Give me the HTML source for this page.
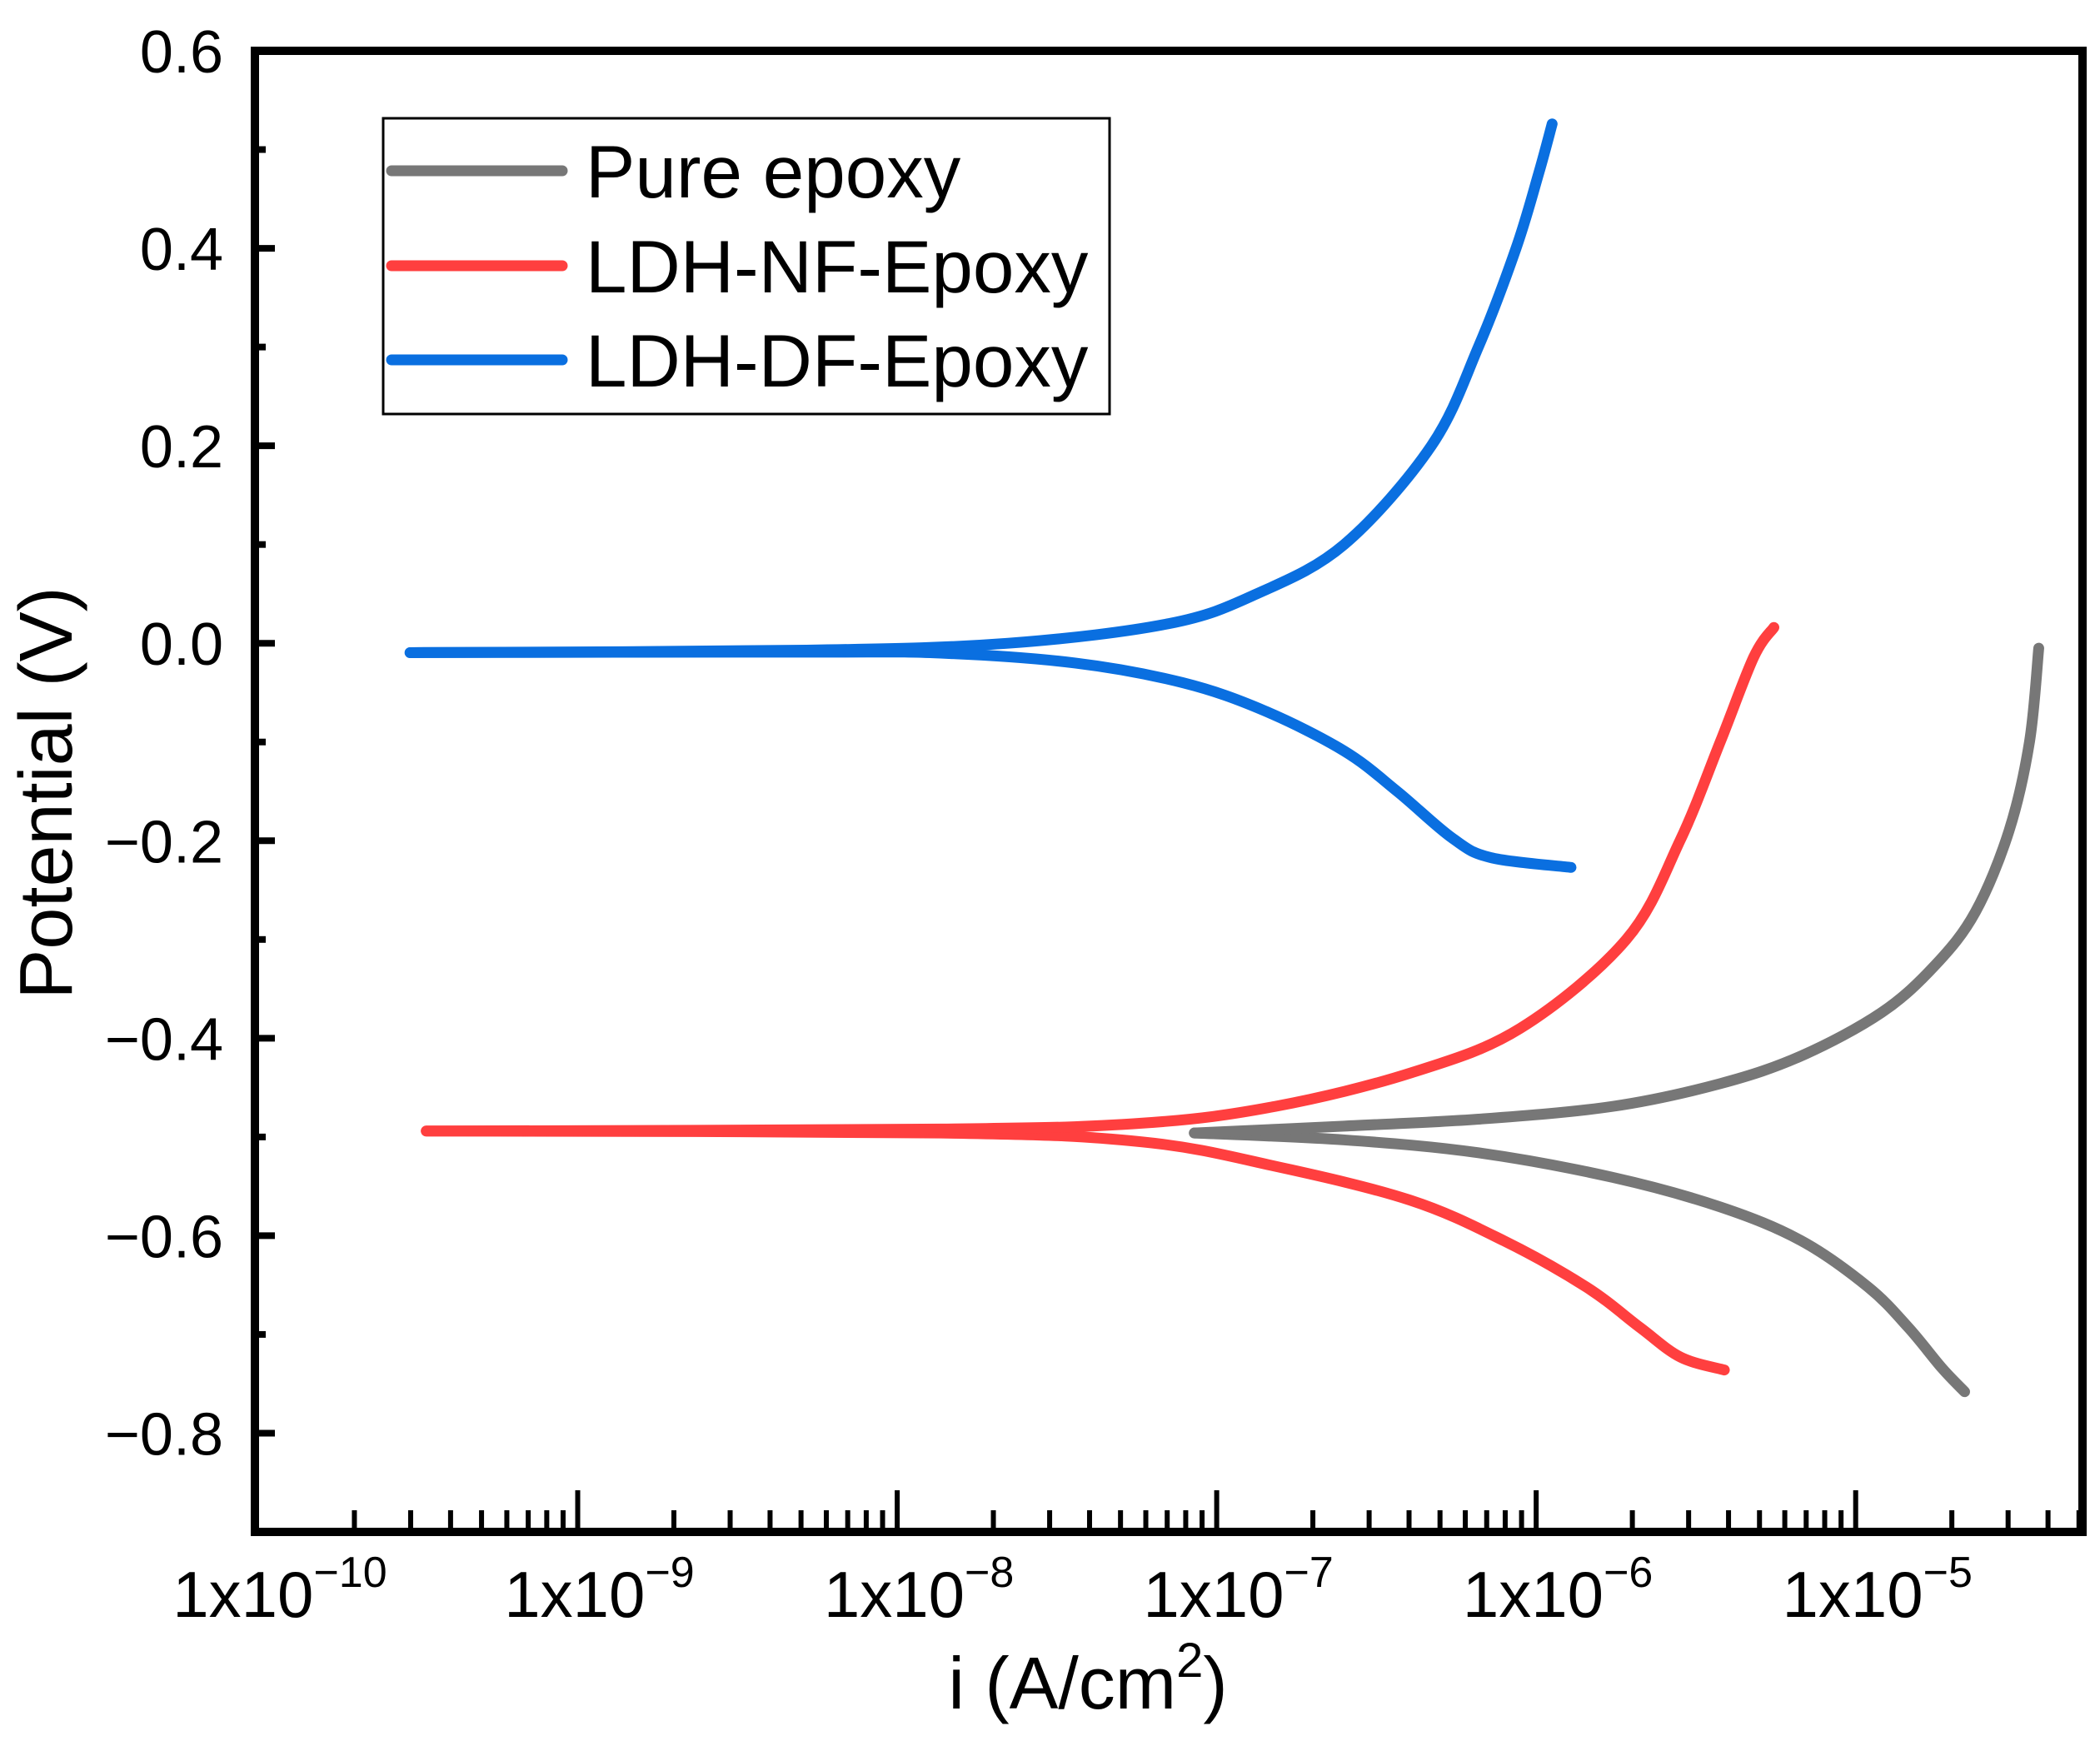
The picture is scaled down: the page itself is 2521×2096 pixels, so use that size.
<!DOCTYPE html>
<html><head><meta charset="utf-8"><style>
html,body{margin:0;padding:0;background:#fff}
svg{display:block;font-family:"Liberation Sans",sans-serif}
</style></head><body>
<svg id="chart" width="2521" height="2096" viewBox="0 0 2521 2096" xmlns="http://www.w3.org/2000/svg">
<g id="curves"></g>
<g id="axes"></g>
<g id="legend"></g>
</svg>
<script>
const xDecades = [-10, -9, -8, -7, -6, -5];
const yTicks = [0.6, 0.4, 0.2, 0.0, -0.2, -0.4, -0.6, -0.8];
const yTickLabels = ["0.6","0.4","0.2","0.0","\u22120.2","\u22120.4","\u22120.6","\u22120.8"];
const seriesNames = ["Pure epoxy", "LDH-NF-Epoxy", "LDH-DF-Epoxy"];
// log10(i) and potential (V)
const grayCathLogI = [-7.07, -6.60, -6.181, -5.76, -5.423, -5.171, -4.961, -4.835, -4.730, -4.659];
const grayCathE    = [-0.496, -0.503, -0.516, -0.541, -0.571, -0.605, -0.652, -0.693, -0.734, -0.758];
const grayAnLogI   = [-7.07, -6.601, -6.181, -5.760, -5.424, -5.171, -4.919, -4.751, -4.625, -4.52, -4.456, -4.427];
const grayAnE      = [-0.496, -0.489, -0.482, -0.469, -0.446, -0.418, -0.374, -0.326, -0.272, -0.19, -0.1, -0.005];
const redCathLogI  = [-9.474, -7.864, -7.233, -6.812, -6.395, -6.102, -5.843, -5.675, -5.548, -5.411];
const redCathE     = [-0.494, -0.496, -0.505, -0.53, -0.564, -0.605, -0.652, -0.693, -0.723, -0.736];
const redAnLogI    = [-9.474, -7.863, -7.232, -6.816, -6.391, -6.05, -5.718, -5.550, -5.424, -5.319, -5.256];
const redAnE       = [-0.494, -0.492, -0.486, -0.469, -0.435, -0.39, -0.3, -0.2, -0.1, -0.014, 0.016];
const blueCathLogI = [-9.524, -8.284, -7.864, -7.443, -7.106, -6.853, -6.6015, -6.435, -6.264, -6.143, -5.891];
const blueCathE    = [-0.0095, -0.009, -0.01, -0.02, -0.04, -0.068, -0.109, -0.15, -0.197, -0.217, -0.227];
const blueAnLogI   = [-9.525, -8.284, -7.653, -7.148, -6.875, -6.601, -6.328, -6.181, -6.063, -5.992, -5.95];
const blueAnE      = [-0.0095, -0.007, 0.0, 0.02, 0.05, 0.1, 0.2, 0.3, 0.4, 0.476, 0.526];

const L=306, R=2500, T=61, B=1839;
const xMin=-10.0104, xMax=-4.29, yMin=-0.9, yMax=0.6;
const sx = v => L + (v - xMin) / (xMax - xMin) * (R - L);
const sy = v => B - (v - yMin) / (yMax - yMin) * (B - T);
const NS="http://www.w3.org/2000/svg";
function mk(tag, attrs, parent){const e=document.createElementNS(NS,tag);for(const k in attrs)e.setAttribute(k,attrs[k]);parent.appendChild(e);return e;}

function pathFrom(xs, ys){
  const p = xs.map((v,i)=>[sx(v), sy(ys[i])]);
  let d = `M${p[0][0]},${p[0][1]}`;
  for(let i=0;i<p.length-1;i++){
    const p0=p[Math.max(0,i-1)], p1=p[i], p2=p[i+1], p3=p[Math.min(p.length-1,i+2)];
    const c1=[p1[0]+(p2[0]-p0[0])/6, p1[1]+(p2[1]-p0[1])/6];
    const c2=[p2[0]-(p3[0]-p1[0])/6, p2[1]-(p3[1]-p1[1])/6];
    d += ` C${c1[0]},${c1[1]} ${c2[0]},${c2[1]} ${p2[0]},${p2[1]}`;
  }
  return d;
}
const curves=document.getElementById('curves');
const series=[
  {c:"#777777", parts:[[grayCathLogI,grayCathE],[grayAnLogI,grayAnE]], n:"pure-epoxy"},
  {c:"#ff3f3f", parts:[[redCathLogI,redCathE],[redAnLogI,redAnE]], n:"ldh-nf-epoxy"},
  {c:"#0a6fe0", parts:[[blueCathLogI,blueCathE],[blueAnLogI,blueAnE]], n:"ldh-df-epoxy"}
];
series.forEach(s=>{
  s.parts.forEach((pt,j)=>{
    const el=mk('path',{d:pathFrom(pt[0],pt[1]),fill:'none',stroke:s.c,'stroke-width':13,'stroke-linecap':'round','stroke-linejoin':'round'},curves);
    
    
  });
});

const axes=document.getElementById('axes');
yTicks.forEach((v,i)=>{
  const y=sy(v);
  const t=mk('line',{x1:L,x2:L+24,y1:y,y2:y,stroke:'#000','stroke-width':8},axes);
  
  
  const lb=mk('text',{x:268,y:y+26,'font-size':72,'text-anchor':'end',fill:'#000'},axes);
  lb.textContent=yTickLabels[i];
  
  
  if(i<yTicks.length-1){
    const ym=sy(v-0.1);
    const m=mk('line',{x1:L,x2:L+13,y1:ym,y2:ym,stroke:'#000','stroke-width':8},axes);
    
    
  }
});
xDecades.forEach(d=>{
  const x=sx(d);
  if(d>-10){
    const t=mk('line',{x1:x,x2:x,y1:B,y2:B-50,stroke:'#000','stroke-width':6},axes);
    
    
  }
  for(let k=2;k<=9;k++){
    const lv=d+Math.log10(k);
    if(lv>xMax) break;
    const xm=sx(lv);
    const m=mk('line',{x1:xm,x2:xm,y1:B,y2:B-26,stroke:'#000','stroke-width':6},axes);
    
    
  }
  const lb=mk('text',{x:x+26,y:1941,'font-size':78,'text-anchor':'middle',fill:'#000'},axes);
  
  
  lb.appendChild(document.createTextNode('1x10'));
  const sp=mk('tspan',{'font-size':52,dy:-36},lb);
  sp.textContent='\u2212'+(-d);
});
const fr=mk('rect',{x:L,y:T,width:R-L,height:B-T,fill:'none',stroke:'#000','stroke-width':10},axes);


const xt=mk('text',{x:1306,y:2051,'font-size':88,'text-anchor':'middle',fill:'#000'},axes);


xt.appendChild(document.createTextNode('i (A/cm'));
const s2=mk('tspan',{'font-size':58,dy:-38},xt); s2.textContent='2';
const s3=mk('tspan',{dy:38},xt); s3.textContent=')';
const yt=mk('text',{x:0,y:0,'font-size':90,'text-anchor':'middle',fill:'#000',transform:'translate(86,952) rotate(-90)'},axes);
yt.textContent='Potential (V)';



const lg=document.getElementById('legend');
const box=mk('rect',{x:460,y:142,width:872,height:355,fill:'#fff',stroke:'#000','stroke-width':3},lg);


const ly=[205,319,432];
seriesNames.forEach((n,i)=>{
  const g=mk('g',{},lg);
  
  
  mk('line',{x1:470,x2:675,y1:ly[i],y2:ly[i],stroke:series[i].c,'stroke-width':13,'stroke-linecap':'round'},g);
  const t=mk('text',{x:703,y:ly[i]+32,'font-size':89,fill:'#000'},g);
  t.textContent=n;
});
</script>
</body></html>
